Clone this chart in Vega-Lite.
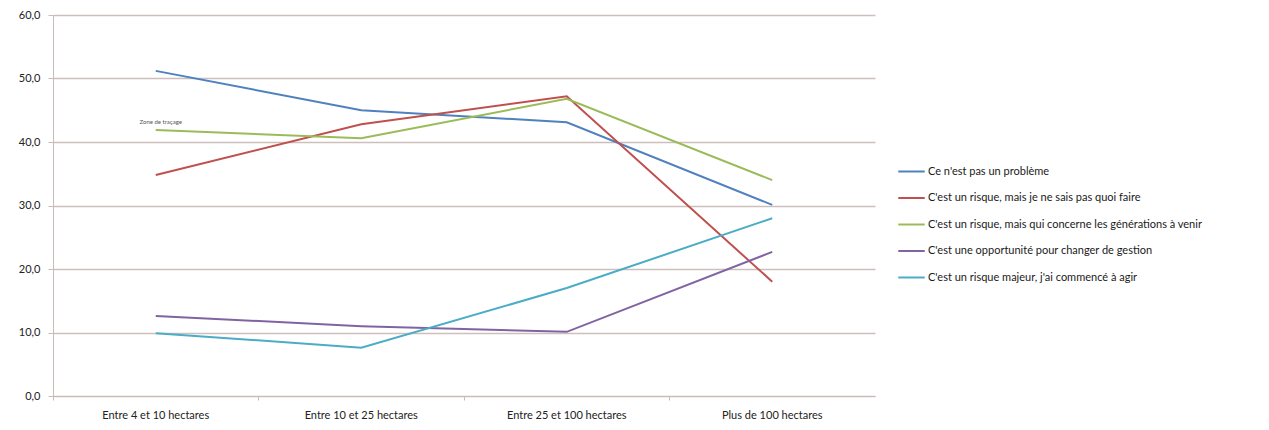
{
  "$schema": "https://vega.github.io/schema/vega-lite/v6.json",
  "autosize": {"type": "none"},
  "width": 822,
  "height": 381,
  "padding": {"left": 53, "top": 15, "right": 394, "bottom": 34},
  "background": "#ffffff",
  "config": {
    "font": "Lato",
    "view": {"stroke": null}
  },
  "data": {
    "values": [
      {"cat": "Entre 4 et 10 hectares", "serie": "Ce n'est pas un problème", "v": 51.2},
      {"cat": "Entre 10 et 25 hectares", "serie": "Ce n'est pas un problème", "v": 45.0},
      {"cat": "Entre 25 et 100 hectares", "serie": "Ce n'est pas un problème", "v": 43.1},
      {"cat": "Plus de 100 hectares", "serie": "Ce n'est pas un problème", "v": 30.1},
      {"cat": "Entre 4 et 10 hectares", "serie": "C'est un risque, mais je ne sais pas quoi faire", "v": 34.8},
      {"cat": "Entre 10 et 25 hectares", "serie": "C'est un risque, mais je ne sais pas quoi faire", "v": 42.8},
      {"cat": "Entre 25 et 100 hectares", "serie": "C'est un risque, mais je ne sais pas quoi faire", "v": 47.2},
      {"cat": "Plus de 100 hectares", "serie": "C'est un risque, mais je ne sais pas quoi faire", "v": 18.0},
      {"cat": "Entre 4 et 10 hectares", "serie": "C'est un risque, mais qui concerne les générations à venir", "v": 41.9},
      {"cat": "Entre 10 et 25 hectares", "serie": "C'est un risque, mais qui concerne les générations à venir", "v": 40.6},
      {"cat": "Entre 25 et 100 hectares", "serie": "C'est un risque, mais qui concerne les générations à venir", "v": 46.8},
      {"cat": "Plus de 100 hectares", "serie": "C'est un risque, mais qui concerne les générations à venir", "v": 34.0},
      {"cat": "Entre 4 et 10 hectares", "serie": "C'est une opportunité pour changer de gestion", "v": 12.6},
      {"cat": "Entre 10 et 25 hectares", "serie": "C'est une opportunité pour changer de gestion", "v": 11.0},
      {"cat": "Entre 25 et 100 hectares", "serie": "C'est une opportunité pour changer de gestion", "v": 10.1},
      {"cat": "Plus de 100 hectares", "serie": "C'est une opportunité pour changer de gestion", "v": 22.7},
      {"cat": "Entre 4 et 10 hectares", "serie": "C'est un risque majeur, j'ai commencé à agir", "v": 9.9},
      {"cat": "Entre 10 et 25 hectares", "serie": "C'est un risque majeur, j'ai commencé à agir", "v": 7.6},
      {"cat": "Entre 25 et 100 hectares", "serie": "C'est un risque majeur, j'ai commencé à agir", "v": 17.0},
      {"cat": "Plus de 100 hectares", "serie": "C'est un risque majeur, j'ai commencé à agir", "v": 28.0}
    ]
  },
  "layer": [
    {
      "mark": {"type": "line", "strokeWidth": 2},
      "encoding": {
        "x": {
          "field": "cat", "type": "nominal", "bandPosition": 0.5,
          "scale": {"type": "band", "paddingInner": 0, "paddingOuter": 0,
            "domain": ["Entre 4 et 10 hectares", "Entre 10 et 25 hectares", "Entre 25 et 100 hectares", "Plus de 100 hectares"]},
          "axis": {
            "title": null, "labelAngle": 0, "bandPosition": 0, "grid": false,
            "domainColor": "#c9bbb7", "tickColor": "#c9bbb7", "tickSize": 4,
            "labelFontSize": 11, "labelColor": "#222222", "labelPadding": 9
          }
        },
        "y": {
          "field": "v", "type": "quantitative",
          "scale": {"domain": [0, 60], "nice": false},
          "axis": {
            "title": null, "values": [0, 10, 20, 30, 40, 50, 60],
            "labelExpr": "replace(format(datum.value, '.1f'), '.', ',')",
            "gridColor": "#cdbfbb", "gridWidth": 1.5, "domainColor": "#c9bbb7",
            "tickColor": "#c9bbb7", "tickSize": 5, "labelPadding": 8,
            "labelFontSize": 11, "labelColor": "#222222"
          }
        },
        "color": {
          "field": "serie", "type": "nominal",
          "scale": {
            "domain": [
              "Ce n'est pas un problème",
              "C'est un risque, mais je ne sais pas quoi faire",
              "C'est un risque, mais qui concerne les générations à venir",
              "C'est une opportunité pour changer de gestion",
              "C'est un risque majeur, j'ai commencé à agir"
            ],
            "range": ["#4f81bd", "#c0504d", "#9bbb59", "#8064a2", "#4bacc6"]
          },
          "legend": {
            "title": null, "orient": "none", "legendX": 844, "legendY": 142,
            "symbolType": "stroke", "symbolSize": 700, "symbolStrokeWidth": 2,
            "labelFontSize": 11, "labelColor": "#1a1a1a", "rowPadding": 6.5,
            "labelLimit": 400, "labelOffset": 2
          }
        }
      }
    },
    {
      "data": {"values": [{"cat": "Entre 4 et 10 hectares", "v": 43.1, "t": "Zone de traçage"}]},
      "mark": {"type": "text", "fontSize": 6, "color": "#555555", "dx": 5},
      "encoding": {
        "x": {"field": "cat", "type": "nominal", "bandPosition": 0.5},
        "y": {"field": "v", "type": "quantitative"},
        "text": {"field": "t"}
      }
    }
  ]
}
